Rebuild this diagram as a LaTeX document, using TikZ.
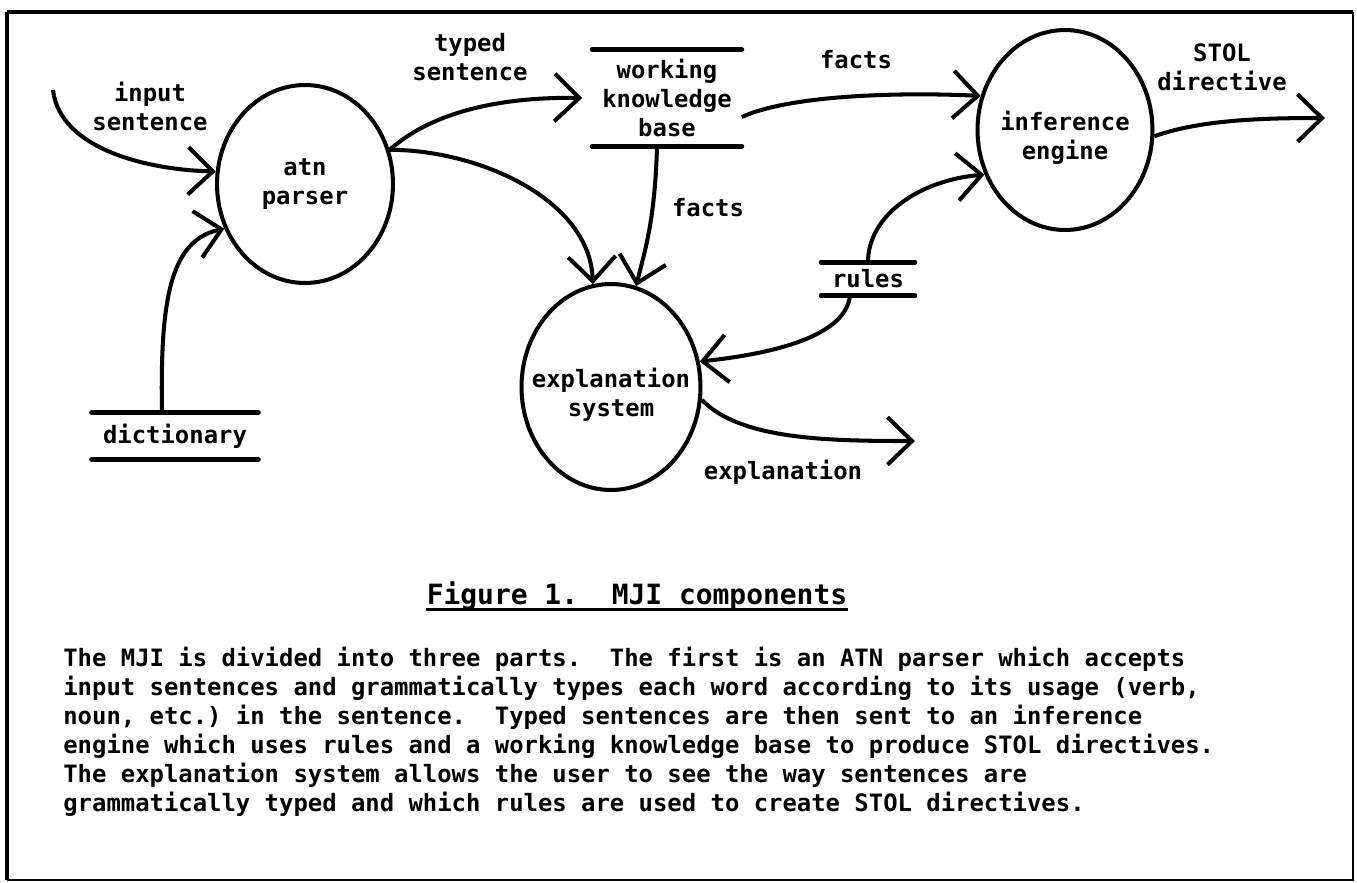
\documentclass[tikz,border=0pt]{standalone}
\usepackage{fontspec}
\setmonofont{DejaVu Sans Mono}
\usetikzlibrary{shapes.geometric,arrows.meta}

\begin{document}
\begin{tikzpicture}[x=0.02cm, y=-0.02cm,
    font=\ttfamily\bfseries\fontsize{13.6}{16.5}\selectfont\frenchspacing,
    >={Straight Barb[length=14pt,width=27pt]},
    proc/.style={draw, ellipse, line width=2.3pt, inner sep=0pt},
    store/.style={inner sep=0pt, align=center},
    storeline/.style={line width=2.8pt, line cap=round},
    flow/.style={->, line width=2.3pt},
    lbl/.style={align=center, inner sep=0pt}]
        \useasboundingbox (0,0) rectangle (1357,883);

        % Frame
        \draw[line width=2.8pt] (7,12) -- (1353,12);
        \draw[line width=2.3pt] (7,12) -- (7,880);
        \draw[line width=1.2pt] (1353,12) -- (1353,880) -- (7,880);

        % Nodes
        \node (atn) [proc, minimum width=3.52cm, minimum height=3.96cm,
            label={[lbl]center:atn\\parser}] at (305,184) {};
        \node (inf) [proc, minimum width=3.5cm, minimum height=4cm,
            label={[lbl, yshift=-0.16cm]center:inference\\engine}] at (1065,130) {};
        \node (exp) [proc, minimum width=3.58cm, minimum height=4.12cm,
            label={[lbl, yshift=-0.16cm]center:explanation\\system}] at (611,387) {};
        \node (wkb) [store, minimum width=2.98cm, minimum height=1.92cm] at (667,98) {working\\knowledge\\base};
        \node (rules) [store, minimum width=1.86cm, minimum height=0.66cm] at (868,279) {rules};
        \node (dict) [store, minimum width=3.32cm, minimum height=0.92cm] at (175,436) {dictionary};

        % Store lines
        \foreach \s in {wkb,rules,dict} {
            \draw[storeline] (\s.north west) -- (\s.north east);
            \draw[storeline] (\s.south west) -- (\s.south east);
        }

        % Free ends
        \coordinate (inpt) at (53,90);
        \coordinate (stolout) at (1325,118);
        \coordinate (explout) at (915,441);

        % Flows
        \draw[flow] (inpt) .. controls (60,150) and (150,170) .. (atn.172);
        \draw[flow] ([xshift=-0.26cm]dict.north) .. controls (160,300) and (170,240) .. (atn.209);
        \draw[flow] (atn.22) .. controls (440,105) and (520,97) .. ([xshift=-0.2cm]wkb.west);
        \draw[flow] (atn.22) .. controls (480,150) and (590,200) .. (exp.100);
        \draw[flow] ([xshift=-0.2cm]wkb.south) .. controls (655,220) and (645,250) .. (exp.76);
        \draw[flow] ([yshift=-0.38cm]wkb.east) .. controls (790,95) and (900,92) .. (inf.158);
        \draw[flow] (rules.north) .. controls (868,215) and (920,180) .. (inf.209);
        \draw[flow] ([xshift=-0.36cm]rules.south) .. controls (845,340) and (760,355) .. (exp.16);
        \draw[flow] (exp.-8) .. controls (740,440) and (830,441) .. (explout);
        \draw[flow] (inf.-4) .. controls (1200,120) and (1260,118) .. (stolout);

        % Labels
        \node (l_in) [lbl] at (150,106) {input\\sentence};
        \node (l_typed) [lbl] at (470,57) {typed\\sentence};
        \node (l_facts1) [lbl] at (856,60) {facts};
        \node (l_facts2) [lbl] at (708,208) {facts};
        \node (l_stol) [lbl] at (1222,67) {STOL\\directive};
        \node (l_expl) [lbl] at (783,472) {explanation};

        % Caption and text
        \node (caption) [lbl, font=\ttfamily\bfseries\fontsize{15.9}{18}\selectfont] at (637,596) {Figure 1.\ \ MJI components};
        \draw[line width=1.6pt] ([yshift=-3pt]caption.base west) -- ([yshift=-3pt]caption.base east);
        \node (desc) [lbl, anchor=north west, align=left] at (63,647) {The MJI is divided into three parts.\ \ The first is an ATN parser which accepts\\
input sentences and grammatically types each word according to its usage (verb,\\
noun, etc.) in the sentence.\ \ Typed sentences are then sent to an inference\\
engine which uses rules and a working knowledge base to produce STOL directives.\\
The explanation system allows the user to see the way sentences are\\
grammatically typed and which rules are used to create STOL directives.};
    \end{tikzpicture}
\end{document}
